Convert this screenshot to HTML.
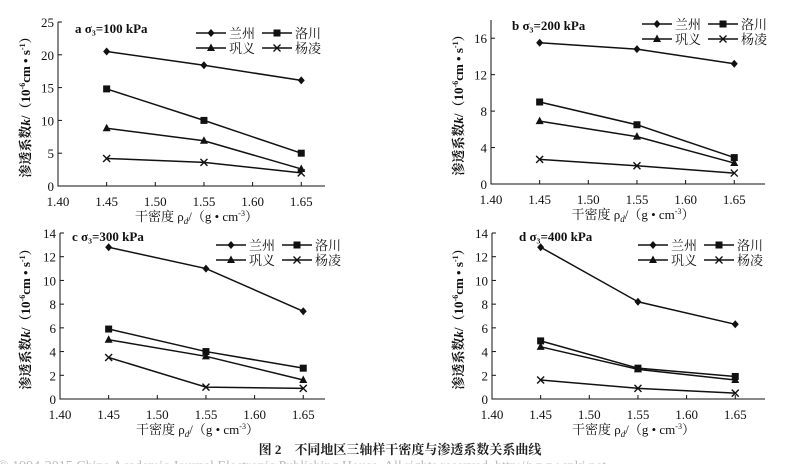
<!DOCTYPE html>
<html><head><meta charset="utf-8"><style>
html,body{margin:0;padding:0;background:#fff;}
svg{display:block;font-family:"Liberation Serif","Noto Serif CJK SC",serif;}
</style></head><body>
<svg id="c" width="800" height="464" viewBox="0 0 800 464">
<text x="400" y="454" text-anchor="middle" font-size="13" font-weight="bold" fill="#222">图 2　不同地区三轴样干密度与渗透系数关系曲线</text>
<text x="-2" y="470" font-size="14" fill="#bbb">© 1994-2015 China Academic Journal Electronic Publishing House. All rights reserved. http://www.cnki.net</text>
</svg>
<script>
const categories=[1.45,1.55,1.65];
const seriesNames=["兰州","洛川","巩义","杨凌"];
const markers=["diamond","square","triangle","cross"];
const panelTitles=["a σ₃=100 kPa","b σ₃=200 kPa","c σ₃=300 kPa","d σ₃=400 kPa"];
const aLanzhou=[20.5,18.4,16.1],aLuochuan=[14.8,10,5],aGongyi=[8.8,6.9,2.6],aYangling=[4.2,3.6,2.0];
const bLanzhou=[15.5,14.8,13.2],bLuochuan=[9,6.5,2.9],bGongyi=[6.9,5.2,2.3],bYangling=[2.7,2.0,1.2];
const cLanzhou=[12.8,11,7.4],cLuochuan=[5.9,4.0,2.6],cGongyi=[5.0,3.6,1.6],cYangling=[3.5,1.0,0.9];
const dLanzhou=[12.8,8.2,6.3],dLuochuan=[4.9,2.6,1.9],dGongyi=[4.4,2.5,1.6],dYangling=[1.6,0.9,0.5];
const xTicks=[1.40,1.45,1.50,1.55,1.60,1.65];
const yTicksA=[0,5,10,15,20,25],yTicksB=[0,4,8,12,16],yTicksC=[0,2,4,6,8,10,12,14],yTicksD=[0,2,4,6,8,10,12,14];
const NS="http://www.w3.org/2000/svg";
const svg=document.getElementById('c');
function mk(tag,attrs,parent){const e=document.createElementNS(NS,tag);for(const k in attrs)e.setAttribute(k,attrs[k]);(parent||svg).appendChild(e);return e;}
function marker(g,type,x,y){
 let e;
 if(type==="diamond")e=mk('polygon',{points:`${x},${y-4} ${x+3.5},${y} ${x},${y+4} ${x-3.5},${y}`,fill:'#111'},g);
 else if(type==="square")e=mk('rect',{x:x-3.5,y:y-3.5,width:7,height:7,fill:'#111'},g);
 else if(type==="triangle")e=mk('polygon',{points:`${x},${y-4.5} ${x+4},${y+3} ${x-4},${y+3}`,fill:'#111'},g);
 else e=mk('path',{d:`M${x-3.5},${y-3.5}L${x+3.5},${y+3.5}M${x+3.5},${y-3.5}L${x-3.5},${y+3.5}`,stroke:'#111','stroke-width':1.4},g);
 return e;
}
const panels=[
 {ax:58,y0:186,yTop:22,yMax:25,ticks:yTicksA,xr:325,data:[aLanzhou,aLuochuan,aGongyi,aYangling],title:panelTitles[0],tx:75,ty:33,lx:196,ly:33,ylx:30},
 {ax:491,y0:184,yTop:20,yMax:18,ticks:yTicksB,xr:765,data:[bLanzhou,bLuochuan,bGongyi,bYangling],title:panelTitles[1],tx:512,ty:30,lx:642,ly:24,ylx:463},
 {ax:60,y0:399,yTop:233,yMax:14,ticks:yTicksC,xr:325,data:[cLanzhou,cLuochuan,cGongyi,cYangling],title:panelTitles[2],tx:72,ty:241,lx:216,ly:245,ylx:30},
 {ax:492,y0:399,yTop:233,yMax:14,ticks:yTicksD,xr:765,data:[dLanzhou,dLuochuan,dGongyi,dYangling],title:panelTitles[3],tx:519,ty:241,lx:638,ly:245,ylx:463}
];
panels.forEach((p,pi)=>{
 const g=mk('g',{});
 
 
 const xs=v=>p.ax+(v-1.40)/0.1*97.3;
 const ys=v=>p.y0-(v/p.yMax)*(p.y0-p.yTop);
 const axes=mk('path',{d:`M${p.ax},${p.yTop}V${p.y0}H${p.xr}`,fill:'none',stroke:'#111','stroke-width':1},g);
 
 
 p.ticks.forEach(t=>{
  mk('line',{x1:p.ax,x2:p.ax+4,y1:ys(t),y2:ys(t),stroke:'#111'},g);
  const tl=mk('text',{x:p.ax-4,y:ys(t)+5,'text-anchor':'end','font-size':13,fill:'#111'},g);
  tl.textContent=t;
  
  
 });
 xTicks.forEach(t=>{
  mk('line',{x1:xs(t),x2:xs(t),y1:p.y0,y2:p.y0-4,stroke:'#111'},g);
  const tl=mk('text',{x:xs(t),y:p.y0+20,'text-anchor':'middle','font-size':13,fill:'#111'},g);
  tl.textContent=t.toFixed(2);
  
  
 });
 const xt=mk('text',{x:(p.ax+p.xr)/2+5,y:p.y0+35,'text-anchor':'middle','font-size':13,fill:'#111'},g);
 xt.innerHTML='干密度 ρ<tspan font-size="9" dy="3" font-style="italic">d</tspan><tspan dy="-3">/（g • cm</tspan><tspan font-size="8" dy="-5">-3</tspan><tspan dy="5">）</tspan>';
 
 
 const yc=(p.y0+p.yTop)/2;
 const yt=mk('text',{x:p.ylx,y:yc,'text-anchor':'middle','font-size':13,'font-weight':'bold',fill:'#111',transform:`rotate(-90 ${p.ylx} ${yc})`},g);
 yt.innerHTML='渗透系数<tspan font-style="italic">k</tspan>/（10<tspan font-size="8" dy="-5">-6</tspan><tspan dy="5">cm • s</tspan><tspan font-size="8" dy="-5">-1</tspan><tspan dy="5">）</tspan>';
 
 
 const tt=mk('text',{x:p.tx,y:p.ty,'font-size':13,'font-weight':'bold',fill:'#111'},g);
 tt.textContent=p.title;
 
 
 p.data.forEach((vals,si)=>{
  const pts=vals.map((v,i)=>xs(categories[i])+','+ys(v)).join(' ');
  const line=mk('polyline',{points:pts,fill:'none',stroke:'#111','stroke-width':1.5},g);
  
  
  vals.forEach((v,i)=>{const m=marker(g,markers[si],xs(categories[i]),ys(v));
   
   });
  const lx=p.lx+(si%2)*66, ly=p.ly+Math.floor(si/2)*15;
  const le=mk('g',{},g);
  
  
  mk('line',{x1:lx,x2:lx+30,y1:ly,y2:ly,stroke:'#111','stroke-width':1.4},le);
  marker(le,markers[si],lx+15,ly);
  const lt=mk('text',{x:lx+33,y:ly+5,'font-size':13,fill:'#111'},le);
  lt.textContent=seriesNames[si];
 });
});
</script>
</body></html>
